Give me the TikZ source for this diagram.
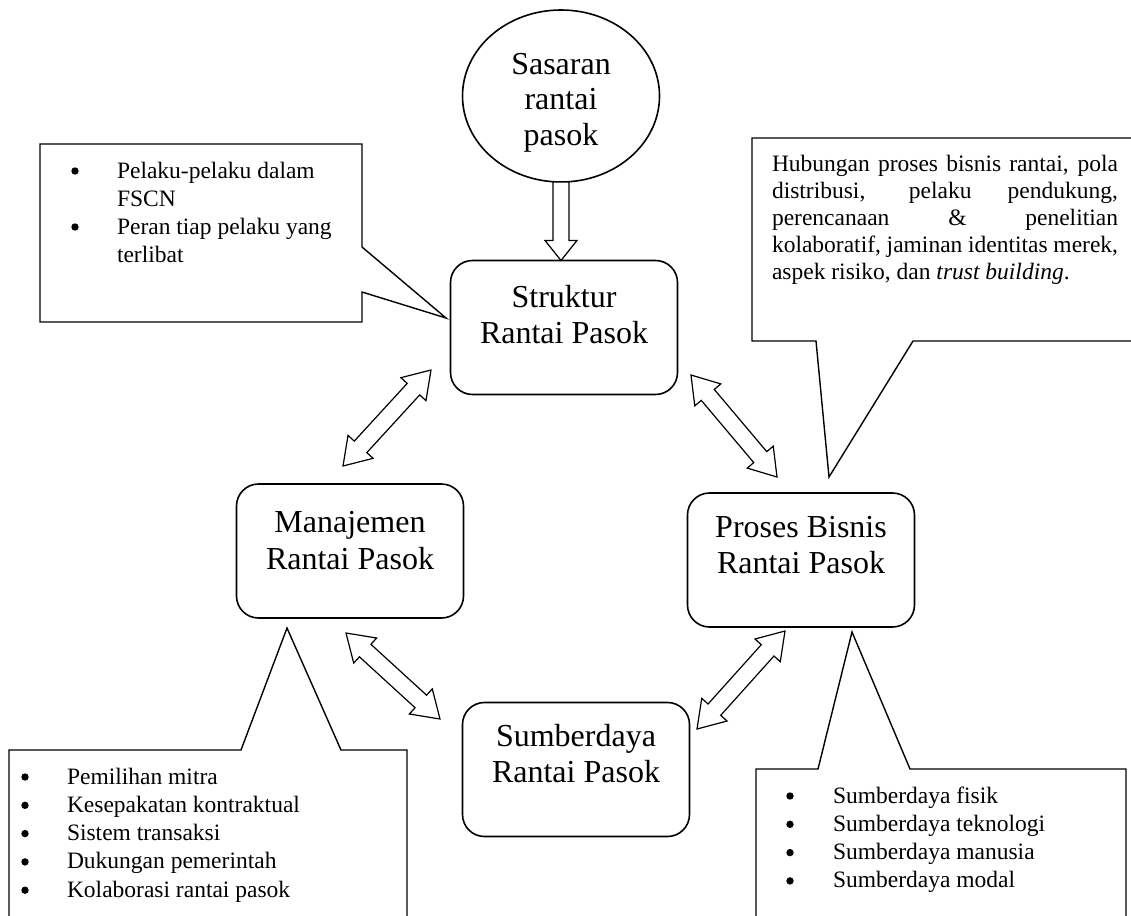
\documentclass[tikz,border=0pt]{standalone}
\usepackage{fontspec}
\setmainfont{Liberation Serif}
\usetikzlibrary{shapes.geometric,calc}

\tikzset{
  every node/.style={inner sep=0pt, outer sep=0pt},
  stage/.style={draw, line width=1.6pt, rounded corners=22pt, fill=white,
    minimum width=227pt, minimum height=134pt},
  goal/.style={draw, ellipse, line width=1.6pt, fill=white,
    minimum width=197pt, minimum height=172pt},
  bigtext/.style={font=\fontsize{32}{36}\selectfont, anchor=base},
  smalltext/.style={font=\fontsize{23.5}{28}\selectfont, anchor=base west},
  listdot/.style={circle, fill=black, minimum size=7.4pt},
  callout/.style={draw, line width=1.4pt, fill=white, line join=miter},
  blockarrow/.style={draw, line width=1.2pt, fill=white, line join=miter},
}

% hollow block arrow with a head at both ends, between two tip points
\newcommand\dualblockarrow[3]{%
  \coordinate (#3-a) at ($(#1)!26pt!(#2)$);
  \coordinate (#3-b) at ($(#2)!26pt!(#1)$);
  \draw[blockarrow] (#1)
    -- ($(#3-a)!17pt!90:(#2)$) -- ($(#3-a)!8.5pt!90:(#2)$)
    -- ($(#3-b)!8.5pt!-90:(#1)$) -- ($(#3-b)!17pt!-90:(#1)$)
    -- (#2)
    -- ($(#3-b)!17pt!90:(#1)$) -- ($(#3-b)!8.5pt!90:(#1)$)
    -- ($(#3-a)!8.5pt!-90:(#2)$) -- ($(#3-a)!17pt!-90:(#2)$)
    -- cycle;}

% hollow block arrow with a single head at the second point
\newcommand\singleblockarrow[3]{%
  \coordinate (#3-h) at ($(#2)!20pt!(#1)$);
  \draw[blockarrow] ($(#1)!8pt!90:(#2)$) -- ($(#3-h)!8pt!90:(#2)$)
    -- ($(#3-h)!16pt!90:(#2)$) -- (#2) -- ($(#3-h)!16pt!-90:(#2)$)
    -- ($(#3-h)!8pt!-90:(#2)$) -- ($(#1)!8pt!-90:(#2)$) -- cycle;}

\begin{document}
\begin{tikzpicture}[x=1pt,y=-1pt]
\useasboundingbox (0,0) rectangle (1131,915);
\fill[white] (0,0) rectangle (1131,915);
\clip (0,0) rectangle (1131,915);

% speech-bubble callouts
\draw[callout] (40,144) -- (362,144) -- (362,247) -- (446,318) -- (362,292)
  -- (362,322) -- (40,322) -- cycle;
\draw[callout] (752,138) -- (1145,138) -- (1145,341) -- (913,341) -- (829,477)
  -- (816,341) -- (752,341) -- cycle;
\draw[callout] (9,930) -- (9,750) -- (241,750) -- (287,628) -- (341,750)
  -- (407,750) -- (407,930);
\draw[callout] (756,930) -- (756,769) -- (818,769) -- (852,632) -- (910,769)
  -- (1126,769) -- (1126,930);

% main elements
\node[goal] (goal) at (561,96) {};
\node[stage] (struk) at (564,327.5) {};
\node[stage] (manaj) at (350,551) {};
\node[stage] (proses) at (801,560) {};
\node[stage] (sumber) at (576,769.5) {};

\node[bigtext] (goal1) at (561,75) {Sasaran};
\node[bigtext] (goal2) at (561,110) {rantai};
\node[bigtext] (goal3) at (561,145) {pasok};

\node[bigtext] (struk1) at ($(struk.north)+(0,47)$) {Struktur};
\node[bigtext] (struk2) at ($(struk.north)+(0,83)$) {Rantai Pasok};
\node[bigtext] (manaj1) at ($(manaj.north)+(0,48)$) {Manajemen};
\node[bigtext] (manaj2) at ($(manaj.north)+(0,85)$) {Rantai Pasok};
\node[bigtext] (proses1) at ($(proses.north)+(0,44)$) {Proses Bisnis};
\node[bigtext] (proses2) at ($(proses.north)+(0,80)$) {Rantai Pasok};
\node[bigtext] (sumber1) at ($(sumber.north)+(0,44)$) {Sumberdaya};
\node[bigtext] (sumber2) at ($(sumber.north)+(0,80)$) {Rantai Pasok};

% connectors
\coordinate (gs) at (goal.south);
\coordinate (gt) at (goal.south |- struk.north);
\singleblockarrow{gs}{gt}{down}

\coordinate (sm1) at (431,370);
\coordinate (sm2) at (343,466);
\dualblockarrow{sm1}{sm2}{sm}
\coordinate (sp1) at (691,375);
\coordinate (sp2) at (777,477);
\dualblockarrow{sp1}{sp2}{sp}
\coordinate (ms1) at (346,633);
\coordinate (ms2) at (440,719);
\dualblockarrow{ms1}{ms2}{ms}
\coordinate (ps1) at (785,631);
\coordinate (ps2) at (697,729);
\dualblockarrow{ps1}{ps2}{ps}

% callout texts
\node[listdot] (tl1b) at (75,171) {};
\node[smalltext] (tl1) at (117,178) {Pelaku-pelaku dalam};
\node[smalltext] (tl2) at (117,206) {FSCN};
\node[listdot] (tl3b) at (75,227) {};
\node[smalltext] (tl3) at (117,234) {Peran tiap pelaku yang};
\node[smalltext] (tl4) at (117,262) {terlibat};

\node[smalltext] (tr1) at (772,171) {\makebox[346pt][s]{Hubungan proses bisnis rantai, pola}};
\node[smalltext] (tr2) at (772,198) {\makebox[346pt][s]{distribusi, pelaku pendukung,}};
\node[smalltext] (tr3) at (772,225) {\makebox[346pt][s]{perencanaan \& penelitian}};
\node[smalltext] (tr4) at (772,252) {\makebox[346pt][s]{kolaboratif, jaminan identitas merek,}};
\node[smalltext] (tr5) at (772,279) {aspek risiko, dan \textit{trust building}.};

\foreach \t [count=\i] in {Pemilihan mitra, Kesepakatan kontraktual,
    Sistem transaksi, Dukungan pemerintah, Kolaborasi rantai pasok} {
  \node[listdot] (bl\i b) at (25,{777+28.3*(\i-1)}) {};
  \node[smalltext] (bl\i) at (67,{784+28.3*(\i-1)}) {\t};
}
\foreach \t [count=\i] in {Sumberdaya fisik, Sumberdaya teknologi,
    Sumberdaya manusia, Sumberdaya modal} {
  \node[listdot] (br\i b) at (790,{796+28.3*(\i-1)}) {};
  \node[smalltext] (br\i) at (833,{803+28.3*(\i-1)}) {\t};
}
\end{tikzpicture}
\end{document}
